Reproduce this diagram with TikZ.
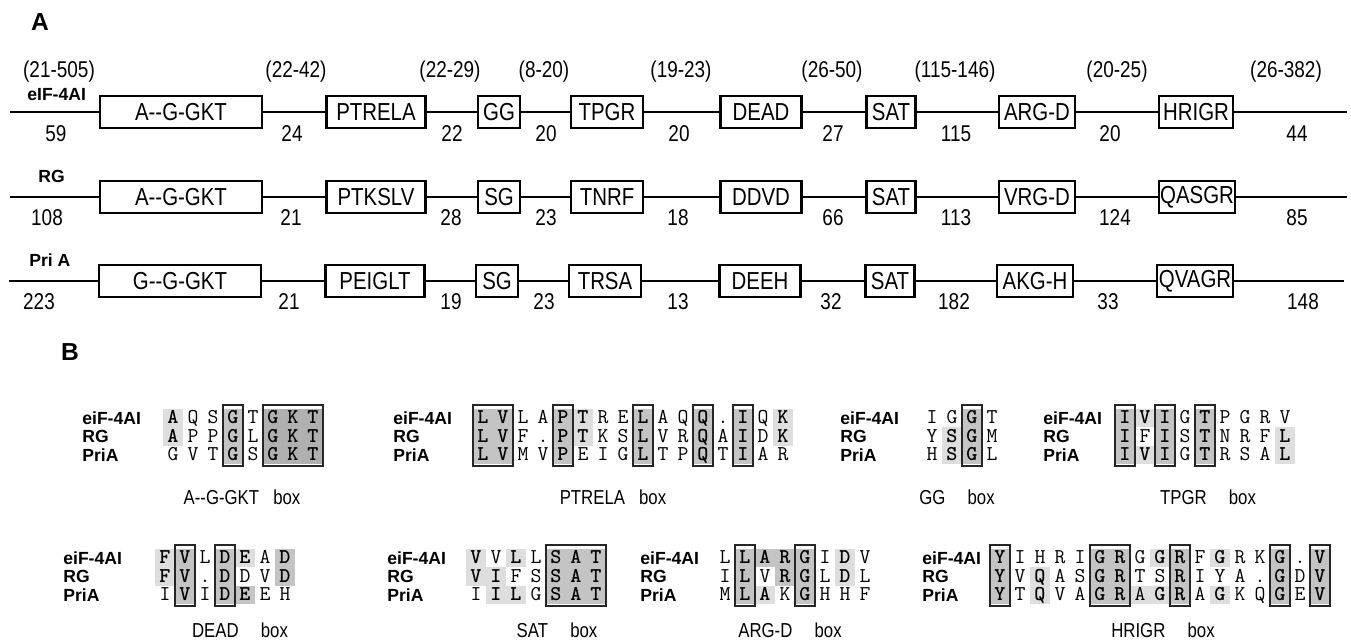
\documentclass[tikz,border=0pt]{standalone}
\usepackage{fontspec}
\setmainfont{Liberation Sans}
\newfontfamily\narrowfont{Liberation Sans}[FakeStretch=0.83]
\usetikzlibrary{positioning}
\colorlet{lt}{black!13}
\colorlet{md}{black!23}
\colorlet{dk}{black!31}
\newcommand{\cons}[1]{\textbf{#1}}

% one alignment block: name, label x, first column x, top row y, rows, shading, boxes
\newcommand{\seqblock}[7]{%
  \begin{scope}[shift={(#3,#4)}]
    % shaded residues
    \foreach \ca/\cb/\ra/\rb/\sh in {#6}
      \fill[\sh] ({20*\ca-30},{18.5*\ra-27.75}) rectangle ({20*\cb-10},{18.5*\rb-9.25});
    % sequence names
    \foreach \lab [count=\rw] in {eiF-4AI,RG,PriA}
      \node[seqname] (#1-l\rw) at ({#2-#3},{18.5*(\rw-1)}) {\lab};
    % residues
    \foreach \row [count=\rw] in {#5} {
      \foreach \ch [count=\i] in \row
        \node[res] (#1-\rw-\i) at ({20*(\i-1)},{18.5*(\rw-1)}) {\ch};
    }
    % boxed columns
    \foreach \ca/\cb in {#7}
      \draw[frame] ({20*\ca-30},-13) rectangle ({20*\cb-10},48);
  \end{scope}}

\begin{document}
\begin{tikzpicture}[x=0.02cm, y=-0.02cm,
    dom/.style={
        draw, line width=1.6pt, fill=white, inner sep=0pt,
        minimum height=0.64cm, font=\narrowfont\fontsize{14}{16}\selectfont
    },
    num/.style={font=\narrowfont\fontsize{13}{15}\selectfont, inner sep=1pt},
    prot/.style={font=\bfseries\fontsize{10}{12}\selectfont, anchor=west, inner sep=0pt},
    bb/.style={line width=1.6pt},
    panel/.style={font=\bfseries\fontsize{14}{16}\selectfont, inner sep=0pt},
    seqname/.style={
        font=\bfseries\fontsize{10}{12}\selectfont, anchor=west,
        inner sep=0pt, text height=7pt, text depth=0pt
    },
    res/.style={
        font=\ttfamily\fontsize{12}{14}\selectfont, inner sep=0pt,
        text height=6.5pt, text depth=0pt
    },
    frame/.style={draw=black!85, line width=0.9pt},
    boxcap/.style={font=\narrowfont\fontsize{11.5}{13}\selectfont, inner sep=0pt}
]
\useasboundingbox[fill=white] (0,0) rectangle (1351,642);

% ---------------- panel A ----------------
\node[panel] (pa) at (40,22) {A};

% ranges above the lines
\foreach \n/\nx [count=\k] in {(21-505)/59, (22-42)/296, (22-29)/450, (8-20)/544,
    (19-23)/681, (26-50)/832, (115-146)/955, (20-25)/1117, (26-382)/1286}
  \node[num] (rng-\k) at (\nx,72) {\n};

% eIF-4AI
\node[prot] (p1) at (27,95) {eIF-4AI};
\foreach \t/\cx/\w [count=\k] in {A-{}-G-GKT/181/162, PTRELA/376/99, GG/499/42, TPGR/607/72,
    DEAD/761/81, SAT/891/49, ARG-D/1037/76, HRIGR/1196/74}
  \node[dom, minimum width=\w*0.02cm] (a1-\k) at (\cx,112) {\t};
\coordinate (a1-s) at (10,112);
\coordinate (a1-e) at (1347,112);
\draw[bb] (a1-s) -- (a1-1) -- (a1-2) -- (a1-3) -- (a1-4) -- (a1-5)
    -- (a1-6) -- (a1-7) -- (a1-8) -- (a1-e);
\foreach \n/\nx [count=\k] in {59/56, 24/292, 22/452, 20/546, 20/679,
    27/833, 115/956, 20/1110, 44/1297}
  \node[num] (n1-\k) at (\nx,134) {\n};

% RG
\node[prot] (p2) at (38,176) {RG};
\foreach \t/\cx/\w [count=\k] in {A-{}-G-GKT/181/162, PTKSLV/376/99, SG/499/42, TNRF/607/72,
    DDVD/761/81, SAT/891/49, VRG-D/1037/76, QASGR/1197/76}
  \node[dom, minimum width=\w*0.02cm] (a2-\k) at (\cx,197) {\t};
\coordinate (a2-s) at (10,197);
\coordinate (a2-e) at (1347,197);
\draw[bb] (a2-s) -- (a2-1) -- (a2-2) -- (a2-3) -- (a2-4) -- (a2-5)
    -- (a2-6) -- (a2-7) -- (a2-8) -- (a2-e);
\foreach \n/\nx [count=\k] in {108/47, 21/291, 28/451, 23/546, 18/678,
    66/833, 113/956, 124/1115, 85/1297}
  \node[num] (n2-\k) at (\nx,218) {\n};

% Pri A
\node[prot] (p3) at (29,260) {Pri A};
\foreach \t/\cx/\w [count=\k] in {G-{}-G-GKT/180/162, PEIGLT/375/99, SG/497/42, TRSA/605/72,
    DEEH/760/81, SAT/890/49, AKG-H/1035/76, QVAGR/1195/76}
  \node[dom, minimum width=\w*0.02cm] (a3-\k) at (\cx,281) {\t};
\coordinate (a3-s) at (9,281);
\coordinate (a3-e) at (1344,281);
\draw[bb] (a3-s) -- (a3-1) -- (a3-2) -- (a3-3) -- (a3-4) -- (a3-5)
    -- (a3-6) -- (a3-7) -- (a3-8) -- (a3-e);
\foreach \n/\nx [count=\k] in {223/39, 21/289, 19/451, 23/544, 13/678,
    32/831, 182/954, 33/1108, 148/1303}
  \node[num] (n3-\k) at (\nx,302) {\n};

% ---------------- panel B ----------------
\node[panel] (pb) at (70,352) {B};

\seqblock{gkt}{82}{173}{418}
  {{\cons{A},Q,S,\cons{G},T,\cons{G},\cons{K},\cons{T}},
   {\cons{A},P,P,\cons{G},L,\cons{G},\cons{K},\cons{T}},
   {G,V,T,\cons{G},S,\cons{G},\cons{K},\cons{T}}}
  {1/1/1/2/lt, 4/4/1/3/md, 6/8/1/3/dk}
  {4/4, 6/8}
\node[boxcap] (cap-gkt) at (242,497) {A-{}-G-GKT\hspace{0.7em}box};

\seqblock{ptrela}{393}{483}{418}
  {{\cons{L},\cons{V},L,A,\cons{P},\cons{T},R,E,\cons{L},A,Q,\cons{Q},.,\cons{I},Q,\cons{K}},
   {\cons{L},\cons{V},F,.,\cons{P},\cons{T},K,S,\cons{L},V,R,\cons{Q},A,\cons{I},D,\cons{K}},
   {\cons{L},\cons{V},M,V,\cons{P},E,I,G,\cons{L},T,P,\cons{Q},T,\cons{I},A,R}}
  {1/2/1/3/md, 5/5/1/3/md, 6/6/1/2/lt, 9/9/1/3/md, 12/12/1/3/md, 14/14/1/3/md, 16/16/1/2/lt}
  {1/2, 5/5, 9/9, 12/12, 14/14}
\node[boxcap] (cap-ptrela) at (613,497) {PTRELA\hspace{0.7em}box};

\seqblock{gg}{840}{932}{418}
  {{I,G,\cons{G},T},
   {Y,\cons{S},\cons{G},M},
   {H,\cons{S},\cons{G},L}}
  {2/2/2/3/lt, 3/3/1/3/md}
  {3/3}
\node[boxcap] (cap-gg) at (957,497) {GG\hspace{1.1em}box};

\seqblock{tpgr}{1043}{1125}{418}
  {{\cons{I},\cons{V},\cons{I},G,\cons{T},P,G,R,V},
   {\cons{I},F,\cons{I},S,\cons{T},N,R,F,\cons{L}},
   {\cons{I},\cons{V},\cons{I},G,\cons{T},R,S,A,\cons{L}}}
  {1/1/1/3/md, 2/2/1/1/lt, 2/2/3/3/lt, 3/3/1/3/md, 5/5/1/3/md, 9/9/2/3/lt}
  {1/1, 3/3, 5/5}
\node[boxcap] (cap-tpgr) at (1208,497) {TPGR\hspace{1.1em}box};

\seqblock{dead}{63}{165}{558}
  {{\cons{F},\cons{V},L,\cons{D},\cons{E},A,\cons{D}},
   {\cons{F},\cons{V},.,\cons{D},D,V,\cons{D}},
   {I,\cons{V},I,\cons{D},\cons{E},E,H}}
  {1/1/1/2/lt, 2/2/1/3/md, 4/4/1/3/md, 5/5/1/1/lt, 5/5/3/3/md, 7/7/1/2/md}
  {2/2, 4/4}
\node[boxcap] (cap-dead) at (240,630) {DEAD\hspace{1.1em}box};

\seqblock{sat}{387}{476}{558}
  {{\cons{V},V,\cons{L},L,\cons{S},\cons{A},\cons{T}},
   {\cons{V},\cons{I},F,S,\cons{S},\cons{A},\cons{T}},
   {I,\cons{I},\cons{L},G,\cons{S},\cons{A},\cons{T}}}
  {1/1/1/2/lt, 2/2/2/3/lt, 3/3/1/1/lt, 3/3/3/3/lt, 5/7/1/3/md}
  {5/7}
\node[boxcap] (cap-sat) at (557,630) {SAT\hspace{1.1em}box};

\seqblock{argd}{640}{725}{558}
  {{L,\cons{L},\cons{A},\cons{R},\cons{G},I,\cons{D},V},
   {I,\cons{L},V,\cons{R},\cons{G},L,\cons{D},L},
   {M,\cons{L},\cons{A},K,\cons{G},H,H,F}}
  {2/2/1/3/md, 3/3/1/1/md, 3/3/3/3/lt, 4/4/1/2/md, 5/5/1/3/md, 7/7/1/2/lt}
  {2/2, 5/5}
\node[boxcap] (cap-argd) at (790,630) {ARG-D\hspace{1.1em}box};

\seqblock{hrigr}{922}{1000}{558}
  {{\cons{Y},I,H,R,I,\cons{G},\cons{R},G,\cons{G},\cons{R},F,\cons{G},R,K,\cons{G},.,\cons{V}},
   {\cons{Y},V,\cons{Q},A,S,\cons{G},\cons{R},T,S,\cons{R},I,Y,A,.,\cons{G},D,\cons{V}},
   {\cons{Y},T,\cons{Q},V,A,\cons{G},\cons{R},A,\cons{G},\cons{R},A,\cons{G},K,Q,\cons{G},E,\cons{V}}}
  {1/1/1/3/md, 3/3/2/3/lt, 6/7/1/3/md, 9/9/1/1/lt, 8/9/3/3/lt, 10/10/1/3/md,
   12/12/1/1/lt, 12/12/3/3/lt, 15/15/1/3/md, 17/17/1/3/md}
  {1/1, 6/7, 10/10, 15/15, 17/17}
\node[boxcap] (cap-hrigr) at (1163,630) {HRIGR\hspace{1.1em}box};

\end{tikzpicture}
\end{document}
